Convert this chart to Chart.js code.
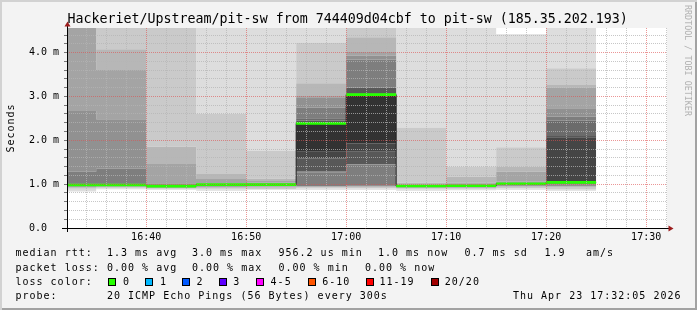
<!DOCTYPE html>
<html>
<head>
<meta charset="utf-8">
<script src="https://cdn.jsdelivr.net/npm/chart.js@4.4.1/dist/chart.umd.min.js"></script>
<style>
  body { margin: 0; background: #f3f3f3; }
  #frame {
    position: relative; width: 697px; height: 310px; overflow: hidden;
    background: #f3f3f3;
    box-shadow: inset 2px 2px 0 #d2d2d2, inset -2px -2px 0 #a2a2a2;
    font-family: "DejaVu Sans Mono", monospace; color: #000;
  }
  #chart { position: absolute; left: 0; top: 0; }
  .title { position: absolute; left: 67.5px; top: 11.4px; font-size: 13.3px; line-height: 16px; white-space: pre; }
  .t { position: absolute; font-size: 10px; line-height: 12px; letter-spacing: 1px; white-space: pre; }
  .ylab { position: absolute; left: -29px; top: 122px; width: 80px; text-align: center;
          font-size: 10px; line-height: 12px; letter-spacing: 1px; transform: rotate(-90deg); }
  .wm { position: absolute; left: 692px; top: 5px; font-size: 8.4px; line-height: 9px; color: #b0b0b0;
        white-space: pre; transform-origin: 0 0; transform: rotate(90deg); }
  .sw { position: absolute; top: 277.5px; width: 8px; height: 8px; box-sizing: border-box; border: 1px solid #000; }
</style>
</head>
<body>
<div id="frame">
  <canvas id="chart" width="697" height="310"></canvas>
  <div class="title">Hackeriet/Upstream/pit-sw from 744409d04cbf to pit-sw (185.35.202.193)</div>
  <div class="ylab">Seconds</div>
  <div class="wm">RRDTOOL / TOBI OETIKER</div>

  <div class="t" style="left:15.5px;top:247.2px">median rtt:</div>
  <div class="t" style="left:107px;top:247.2px">1.3 ms avg</div>
  <div class="t" style="left:192px;top:247.2px">3.0 ms max</div>
  <div class="t" style="left:278.5px;top:247.2px">956.2 us min</div>
  <div class="t" style="left:378px;top:247.2px">1.0 ms now</div>
  <div class="t" style="left:464.5px;top:247.2px">0.7 ms sd</div>
  <div class="t" style="left:544.5px;top:247.2px">1.9</div>
  <div class="t" style="left:586px;top:247.2px">am/s</div>

  <div class="t" style="left:15.5px;top:261.5px">packet loss:</div>
  <div class="t" style="left:107px;top:261.5px">0.00 % avg</div>
  <div class="t" style="left:192px;top:261.5px">0.00 % max</div>
  <div class="t" style="left:278.5px;top:261.5px">0.00 % min</div>
  <div class="t" style="left:365px;top:261.5px">0.00 % now</div>

  <div class="t" style="left:15.5px;top:275.8px">loss color:</div>
  <div id="lossLegend"></div>

  <div class="t" style="left:15.5px;top:290.2px">probe:</div>
  <div class="t" style="left:107px;top:290.2px">20 ICMP Echo Pings (56 Bytes) every 300s</div>
  <div class="t" style="left:513px;top:290.2px">Thu Apr 23 17:32:05 2026</div>
</div>
<script>
// one rrd step every 5 minutes, labelled by step start
const binTimes = ['16:30', '16:35', '16:40', '16:45', '16:50', '16:55', '17:00', '17:05', '17:10', '17:15', '17:20'];
const graphStart = '16:32:05';
const graphEnd = '17:32:05';

// median rtt per step (ms)
const medianRtt = [0.98, 0.98, 0.956, 0.99, 0.99, 2.385, 3.04, 0.957, 0.962, 1.01, 1.04];

// the 20 pings of each step, sorted (ms) -> smoke
const pings1630 = [0.83, 0.87, 0.90, 0.92, 0.93, 0.94, 0.95, 0.96, 0.97, 0.975, 0.98, 0.99, 1.00, 1.02, 1.28, 2.67, 4.9, 5.4, 6.1, 7.3];
const pings1635 = [0.885, 0.90, 0.92, 0.93, 0.94, 0.95, 0.955, 0.96, 0.97, 0.975, 0.98, 0.99, 1.00, 1.02, 1.35, 2.48, 3.60, 4.075, 5.0, 5.8];
const pings1640 = [0.87, 0.89, 0.90, 0.91, 0.915, 0.92, 0.93, 0.94, 0.945, 0.95, 0.956, 0.96, 0.97, 0.98, 1.00, 1.02, 1.46, 1.85, 5.0, 6.0];
const pings1645 = [0.85, 0.88, 0.90, 0.92, 0.93, 0.94, 0.95, 0.96, 0.97, 0.98, 0.99, 0.995, 1.00, 1.005, 1.01, 1.02, 1.12, 1.234, 2.60, 5.2];
const pings1650 = [0.87, 0.89, 0.91, 0.93, 0.94, 0.95, 0.96, 0.97, 0.975, 0.98, 0.99, 0.995, 1.00, 1.01, 1.02, 1.04, 1.07, 1.13, 1.76, 5.0];
const pings1655 = [0.87, 0.90, 0.92, 0.93, 0.95, 0.96, 1.27, 1.29, 1.59, 1.74, 2.385, 2.41, 2.45, 2.50, 2.75, 2.98, 3.01, 3.30, 4.23, 5.0];
const pings1700 = [0.87, 0.90, 0.92, 0.94, 0.96, 0.98, 1.45, 1.46, 1.74, 1.93, 3.04, 3.06, 3.19, 3.20, 3.84, 3.93, 4.01, 4.35, 4.8, 5.5];
const pings1705 = [0.85, 0.88, 0.90, 0.91, 0.92, 0.93, 0.94, 0.945, 0.95, 0.955, 0.957, 0.96, 0.965, 0.97, 0.98, 0.99, 1.00, 1.03, 2.29, 5.0];
const pings1710 = [0.86, 0.88, 0.90, 0.91, 0.92, 0.93, 0.94, 0.95, 0.955, 0.96, 0.962, 0.97, 0.975, 0.98, 0.99, 1.01, 1.04, 1.17, 1.40, 5.2];
const pings1715 = [0.87, 0.90, 0.92, 0.94, 0.95, 0.96, 0.97, 0.98, 0.99, 1.00, 1.01, 1.015, 1.02, 1.03, 1.04, 1.06, 1.29, 1.40, 1.84, 4.42];
const pings1720 = [0.85, 0.89, 0.92, 0.94, 0.96, 0.98, 0.99, 1.00, 1.01, 1.02, 1.04, 2.07, 2.10, 2.45, 2.54, 2.73, 3.20, 3.26, 3.64, 5.3];

const xTickLabels = ['16:40', '16:50', '17:00', '17:10', '17:20', '17:30'];
const yTickLabels = ['0.0  ', '1.0 m', '2.0 m', '3.0 m', '4.0 m'];

const lossLabels = ['0', '1', '2', '3', '4-5', '6-10', '11-19', '20/20'];
const lossColors = ['#26ff00', '#00b8ff', '#0059ff', '#5e00ff', '#ff00ff', '#ff5500', '#ff0000', '#a10000'];
const lossSwatchX = [108, 145, 182, 219, 256, 307.5, 365.5, 430.5];
const lossLabelX = [123, 160, 196.5, 233.3, 270.6, 322.2, 379.5, 444.8];

const steps = [pings1630, pings1635, pings1640, pings1645, pings1650, pings1655,
               pings1700, pings1705, pings1710, pings1715, pings1720];

const STEP_MIN = 5;
const Y_MAX = 4.56;
const MEDIAN_HALF = 0.03;
const GRID = 'rgba(180,180,180,0.75)';
const MGRID = 'rgba(222,80,80,0.6)';

function toMin(t) {
  const [h, m, s = 0] = t.split(':').map(Number);
  return h * 60 + m + s / 60;
}
function fmtMin(v) {
  const h = Math.floor(v / 60), m = Math.round(v - h * 60);
  return String(h).padStart(2, '0') + ':' + String(m).padStart(2, '0');
}
const xMin = toMin(graphStart), xMax = toMin(graphEnd);

// stepped series: value holds from step start to the next step
function stepSeries(values) {
  const pts = binTimes.map((t, i) => ({ x: toMin(t), y: values[i] }));
  pts.push({ x: toMin(binTimes[binTimes.length - 1]) + STEP_MIN, y: values[values.length - 1] });
  return pts;
}

// smokeping shade of the band between sorted ping k and k+1
function smokeGrey(k, n) {
  const half = n / 2;
  const c = Math.min(k, n - k);
  const g = Math.floor(190 / half * (half - c)) + 50;
  return `rgb(${g},${g},${g})`;
}

const nPings = pings1630.length;
const datasets = [];
for (let k = 0; k < nPings; k++) {
  datasets.push({
    data: stepSeries(steps.map((s) => s[k])),
    stepped: true, pointRadius: 0, borderWidth: 0, borderColor: 'rgba(0,0,0,0)',
    backgroundColor: k > 0 ? smokeGrey(k, nPings) : 'rgba(0,0,0,0)',
    fill: k > 0 ? '-1' : false,
    order: 3,
  });
}
datasets.push({
  data: stepSeries(medianRtt), stepped: true, pointRadius: 0,
  borderColor: '#202020', borderWidth: 1, fill: false, order: 2,
});
const loIdx = datasets.length;
datasets.push({
  data: stepSeries(medianRtt.map((m) => m - MEDIAN_HALF)), stepped: true, pointRadius: 0,
  borderWidth: 0, borderColor: 'rgba(0,0,0,0)', fill: false, order: 1,
});
datasets.push({
  data: stepSeries(medianRtt.map((m) => m + MEDIAN_HALF)), stepped: true, pointRadius: 0,
  borderWidth: 0, borderColor: 'rgba(0,0,0,0)', backgroundColor: lossColors[0], fill: loIdx, order: 1,
});

const isMajorX = (v) => Math.abs(v % 10) < 1e-6;
const isMajorY = (v) => Math.abs(v - Math.round(v)) < 1e-6;
const tickFont = { family: 'DejaVu Sans Mono', size: 10 };

const plotArea = {
  id: 'plotArea',
  beforeDraw(chart) {
    const { ctx, chartArea: a } = chart;
    ctx.save();
    ctx.fillStyle = '#ffffff';
    ctx.fillRect(a.left, a.top, a.right - a.left, a.bottom - a.top);
    ctx.restore();
  },
  afterDraw(chart) {
    const { ctx, chartArea: a } = chart;
    const x0 = Math.round(a.left) + 0.5, y0 = Math.round(a.bottom) + 0.5;
    ctx.save();
    ctx.strokeStyle = '#000';
    ctx.lineWidth = 1;
    ctx.beginPath();
    ctx.moveTo(a.left - 5, y0); ctx.lineTo(a.right + 2, y0);
    ctx.moveTo(x0, a.bottom + 4); ctx.lineTo(x0, a.top - 3);
    ctx.stroke();
    ctx.fillStyle = '#9b1c1c';
    ctx.beginPath();
    ctx.moveTo(a.right + 6.5, y0); ctx.lineTo(a.right + 1.5, y0 - 3); ctx.lineTo(a.right + 1.5, y0 + 3);
    ctx.closePath(); ctx.fill();
    ctx.beginPath();
    ctx.moveTo(x0, a.top - 6.5); ctx.lineTo(x0 - 3, a.top - 1.5); ctx.lineTo(x0 + 3, a.top - 1.5);
    ctx.closePath(); ctx.fill();
    ctx.restore();
  },
};

new Chart(document.getElementById('chart'), {
  type: 'line',
  data: { datasets },
  plugins: [plotArea],
  options: {
    responsive: false,
    animation: false,
    devicePixelRatio: 1,
    layout: { padding: { top: 28, right: 30, bottom: 0, left: 0 } },
    plugins: { legend: { display: false }, tooltip: { enabled: false } },
    scales: {
      x: {
        type: 'linear', min: xMin, max: xMax,
        afterBuildTicks: (scale) => {
          const t = [];
          for (let m = Math.ceil(xMin / 2) * 2; m <= xMax; m += 2) t.push({ value: m });
          scale.ticks = t;
        },
        afterFit: (scale) => { scale.height = 82; },
        grid: {
          z: 1, drawTicks: false, lineWidth: 1,
          color: (c) => (c.tick && isMajorX(c.tick.value) ? MGRID : GRID),
        },
        border: { display: false, dash: [1, 1] },
        ticks: {
          autoSkip: false, maxRotation: 0, padding: 3, color: '#000', font: tickFont,
          callback: (v) => (xTickLabels.includes(fmtMin(v)) && isMajorX(v) ? fmtMin(v) : ''),
        },
      },
      y: {
        type: 'linear', min: 0, max: Y_MAX,
        afterBuildTicks: (scale) => {
          const t = [];
          for (let i = 0; i * 0.2 <= Y_MAX; i++) t.push({ value: Math.round(i * 2) / 10 });
          scale.ticks = t;
        },
        afterFit: (scale) => { scale.width = 67; },
        grid: {
          z: 1, drawTicks: true, tickLength: 3, tickColor: '#777', lineWidth: 1,
          color: (c) => (c.tick && isMajorY(c.tick.value) ? MGRID : GRID),
        },
        border: { display: false, dash: [1, 1] },
        ticks: {
          autoSkip: false, padding: 5, color: '#000', font: tickFont,
          callback: (v) => (isMajorY(v) ? (yTickLabels[Math.round(v)] || '') : ''),
        },
      },
    },
  },
});

// loss colour legend row
const lossRow = document.getElementById('lossLegend');
lossLabels.forEach((lab, i) => {
  const box = document.createElement('div');
  box.className = 'sw';
  box.style.left = lossSwatchX[i] + 'px';
  box.style.background = lossColors[i];
  lossRow.appendChild(box);
  const txt = document.createElement('div');
  txt.className = 't';
  txt.style.left = lossLabelX[i] + 'px';
  txt.style.top = '275.8px';
  txt.textContent = lab;
  lossRow.appendChild(txt);
});
</script>
</body>
</html>
